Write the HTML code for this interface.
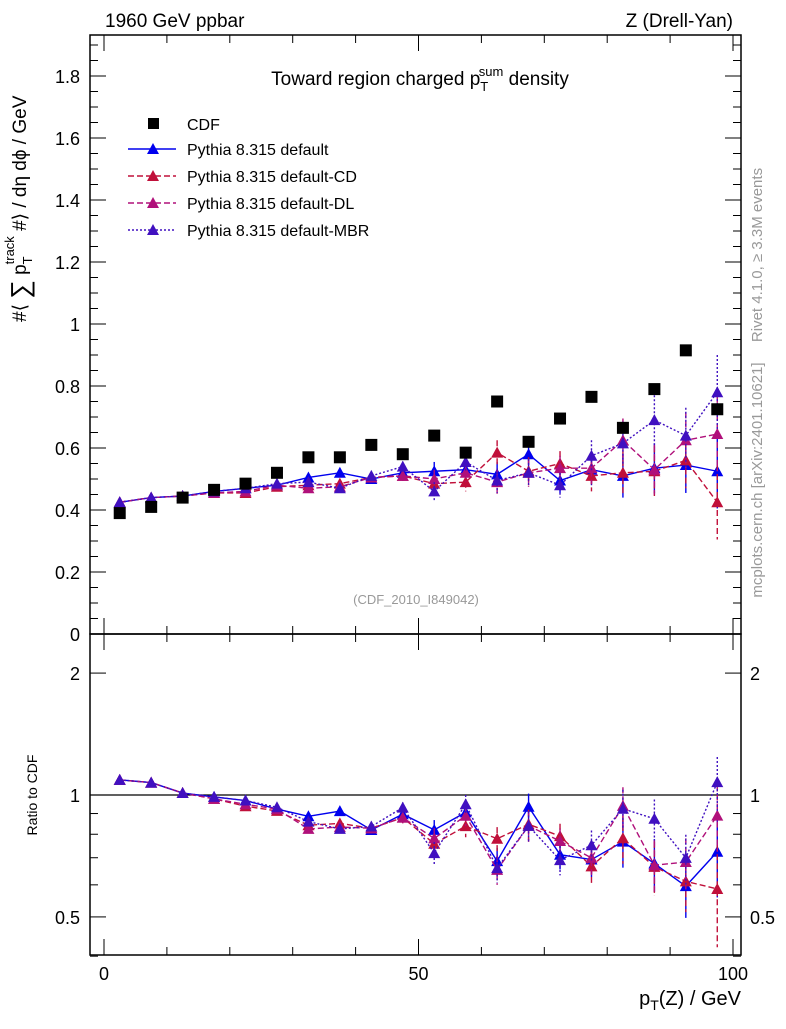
<!DOCTYPE html>
<html><head><meta charset="utf-8"><style>
body{margin:0;background:#fff;font-family:"Liberation Sans",sans-serif}
svg text{font-family:"Liberation Sans","DejaVu Sans",sans-serif}
</style></head><body>
<svg id="c" width="786" height="1024" xmlns="http://www.w3.org/2000/svg">
<text x="105" y="27" font-size="19">1960 GeV ppbar</text>
<text x="733" y="27" font-size="19" text-anchor="end">Z (Drell-Yan)</text>
<text x="420" y="85" font-size="19" text-anchor="middle">Toward region charged p<tspan font-size="13" dy="6">T</tspan><tspan font-size="13" dx="-8" dy="-15">sum</tspan><tspan dy="9"> density</tspan></text>
<text x="416" y="604" font-size="13" fill="#999" text-anchor="middle">(CDF_2010_I849042)</text>
<text transform="translate(762,255) rotate(-90)" font-size="15" fill="#999" text-anchor="middle">Rivet 4.1.0, ≥ 3.3M events</text>
<text transform="translate(762,480) rotate(-90)" font-size="15" fill="#999" text-anchor="middle">mcplots.cern.ch [arXiv:2401.10621]</text>
<text transform="translate(26,322) rotate(-90)" font-size="19" text-anchor="start">#⟨ <tspan font-size="26" dy="3">∑</tspan><tspan dy="-3"> p</tspan><tspan font-size="13" dy="6">T</tspan><tspan font-size="13" dx="-8" dy="-18">track</tspan><tspan dy="12"> #⟩ / dη dϕ / GeV</tspan></text>
<text transform="translate(37,795) rotate(-90)" font-size="14" text-anchor="middle">Ratio to CDF</text>
<text x="741" y="1005" font-size="20" text-anchor="end">p<tspan font-size="14" dy="5">T</tspan><tspan dy="-5">(Z) / GeV</tspan></text>
<g id="main"></g><g id="ratio"></g>
</svg>
<script>
const xs = [2.5,7.5,12.5,17.5,22.5,27.5,32.5,37.5,42.5,47.5,52.5,57.5,62.5,67.5,72.5,77.5,82.5,87.5,92.5,97.5];
const cdf = [0.39,0.41,0.44,0.465,0.485,0.52,0.57,0.57,0.61,0.58,0.64,0.585,0.75,0.62,0.695,0.765,0.665,0.79,0.915,0.725];
const pyDefault = [0.425,0.44,0.445,0.46,0.47,0.48,0.505,0.52,0.50,0.52,0.525,0.53,0.515,0.58,0.495,0.53,0.51,0.535,0.545,0.525];
const pyCD = [0.425,0.44,0.445,0.455,0.455,0.475,0.48,0.485,0.505,0.51,0.485,0.49,0.585,0.525,0.55,0.51,0.52,0.525,0.56,0.425];
const pyDL = [0.425,0.44,0.445,0.455,0.46,0.48,0.47,0.475,0.505,0.51,0.50,0.52,0.49,0.52,0.535,0.535,0.625,0.53,0.625,0.645];
const pyMBR = [0.425,0.44,0.445,0.46,0.47,0.485,0.49,0.47,0.51,0.54,0.46,0.555,0.495,0.52,0.48,0.575,0.615,0.69,0.64,0.78];
const errs = [0.004,0.004,0.005,0.006,0.007,0.008,0.01,0.012,0.014,0.016,0.03,0.03,0.04,0.045,0.04,0.05,0.07,0.08,0.09,0.12];
const mainTicks = [0,0.2,0.4,0.6,0.8,1,1.2,1.4,1.6,1.8];
const xTicks = [0,50,100];
const ratioTicks = [0.5,1,2];
const NS="http://www.w3.org/2000/svg";
const X=v=>104+v*6.29, Y=v=>634-v*310, R=r=>795-Math.log10(r)*405;
function mk(p,t,a){const e=document.createElementNS(NS,t);for(const k in a)e.setAttribute(k,a[k]);p.appendChild(e);return e;}
const main=document.getElementById('main'), ratio=document.getElementById('ratio');
let f=mk(main,'rect',{x:90,y:35,width:651,height:599,fill:'none',stroke:'#000','stroke-width':1.5});


f=mk(ratio,'rect',{x:90,y:634,width:651,height:321,fill:'none',stroke:'#000','stroke-width':1.5});


for(let v=0;v<=1.92;v+=0.05){const y=Y(v);if(y<35)break;const maj=Math.abs(v/0.2-Math.round(v/0.2))<1e-6;
 mk(main,'line',{x1:90,x2:90+(maj?16:8),y1:y,y2:y,stroke:'#000'});mk(main,'line',{x1:741,x2:741-(maj?16:8),y1:y,y2:y,stroke:'#000'});}
mainTicks.forEach(v=>{const t=mk(main,'text',{x:80,y:Y(v)+7,'font-size':18,'text-anchor':'end'});t.textContent=String(v);
 
 });
for(let v=0;v<=100;v+=10){const maj=v%50==0;[[634,-1],[955,-1],[35,1],[634,1]].forEach(([y,d])=>{
 mk(main,'line',{x1:X(v),x2:X(v),y1:y,y2:y+d*(maj?16:8),stroke:'#000'});});}
xTicks.forEach(v=>{const t=mk(ratio,'text',{x:X(v),y:980,'font-size':18,'text-anchor':'middle'});t.textContent=String(v);
 
 });
[0.4,0.5,0.6,0.7,0.8,0.9,1,2].forEach(r=>{const y=R(r);const maj=ratioTicks.includes(r);
 mk(ratio,'line',{x1:90,x2:90+(maj?16:8),y1:y,y2:y,stroke:'#000'});mk(ratio,'line',{x1:741,x2:741-(maj?16:8),y1:y,y2:y,stroke:'#000'});});
ratioTicks.forEach(r=>{[[80,'end'],[750,'start']].forEach(([x,a])=>{const t=mk(ratio,'text',{x:x,y:R(r)+7,'font-size':18,'text-anchor':a});t.textContent=String(r);
 
 });});
mk(ratio,'line',{x1:90,x2:741,y1:R(1),y2:R(1),stroke:'#000','stroke-width':1.2});
const series=[
 {name:'default',v:pyDefault,c:'#0000ee',dash:''},
 {name:'default-cd',v:pyCD,c:'#c0103a',dash:'6,3'},
 {name:'default-dl',v:pyDL,c:'#b0107a',dash:'6,3'},
 {name:'default-mbr',v:pyMBR,c:'#4010c0',dash:'2,2'}];
function tri(g,x,y,c){return mk(g,'path',{d:`M${x},${y-6}L${x+6},${y+5}L${x-6},${y+5}Z`,fill:c});}
series.forEach(s=>{
 ['main','ratio'].forEach(panel=>{
  const g=mk(panel=='main'?main:ratio,'g',{});
  
  
  const yf=(i)=>panel=='main'?Y(s.v[i]):R(s.v[i]/cdf[i]);
  const ye=(i,d)=>panel=='main'?Y(s.v[i]+d*errs[i]):R((s.v[i]+d*errs[i])/cdf[i]);
  mk(g,'polyline',{points:xs.map((x,i)=>X(x)+','+yf(i)).join(' '),fill:'none',stroke:s.c,'stroke-width':1.4,'stroke-dasharray':s.dash});
  xs.forEach((x,i)=>{mk(g,'line',{x1:X(x),x2:X(x),y1:ye(i,1),y2:ye(i,-1),stroke:s.c,'stroke-width':1.4,'stroke-dasharray':s.dash});
   tri(g,X(x),yf(i),s.c);});
 });
});
const cg=mk(main,'g',{});


xs.forEach((x,i)=>{const r=mk(cg,'rect',{x:X(x)-6,y:Y(cdf[i])-6,width:12,height:12,fill:'#000'});
 
 });
const leg=mk(main,'g',{});


mk(leg,'rect',{x:148,y:118,width:11,height:11,fill:'#000'});
let t=mk(leg,'text',{x:187,y:130,'font-size':16});t.textContent='CDF';
const labels=['Pythia 8.315 default','Pythia 8.315 default-CD','Pythia 8.315 default-DL','Pythia 8.315 default-MBR'];
series.forEach((s,i)=>{const y=149+i*27;
 mk(leg,'line',{x1:128,x2:176,y1:y,y2:y,stroke:s.c,'stroke-width':1.4,'stroke-dasharray':s.dash});
 tri(leg,153,y,s.c);
 const tt=mk(leg,'text',{x:187,y:y+6,'font-size':16});tt.textContent=labels[i];
 
 });
</script>
</body></html>
